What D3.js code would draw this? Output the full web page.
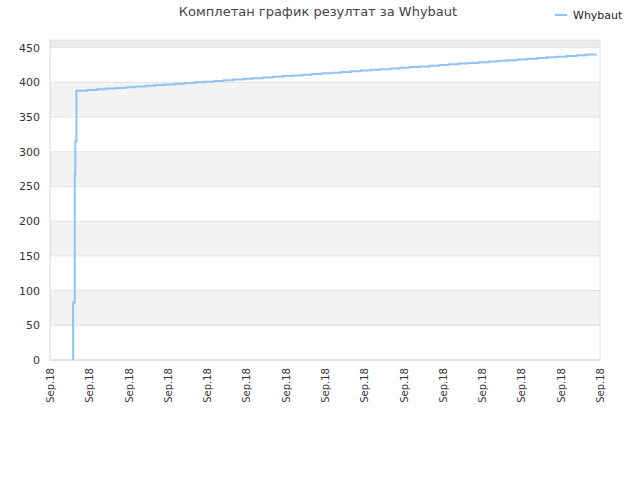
<!DOCTYPE html>
<html><head><meta charset="utf-8">
<script src="https://cdn.jsdelivr.net/npm/d3@7"></script>
<style>body{margin:0;background:#fff}text{font-family:"DejaVu Sans",sans-serif}</style>
</head><body>
<svg id="chart" width="640" height="480"></svg>
<script>
// data (x in arbitrary time units 0..100)
let riseX = [4.2, 4.2, 4.5, 4.5, 4.6, 4.8];
let riseY = [0, 83, 84, 268, 315, 388];
let stepX = [6.7,8.5,10.2,12.0,13.8,15.6,17.4,19.1,20.9,22.7,24.5,26.3,28.0,29.8,31.6,33.4,35.2,36.9,38.7,40.5,42.3,44.1,45.8,47.6,49.4,51.2,53.0,54.7,56.5,58.3,60.1,61.9,63.6,65.4,67.2,69.0,70.8,72.5,74.3,76.1,77.9,79.7,81.4,83.2,85.0,86.8,88.6,90.3,92.1,93.9,95.7,97.5,99.3];
let stepY = [389,390,391,392,393,394,395,396,397,398,399,400,401,402,403,404,405,406,407,408,409,410,411,412,413,414,415,416,417,418,419,420,421,422,423,424,425,426,427,428,429,430,431,432,433,434,435,436,437,438,439,440,441];
let yTicks = [0,50,100,150,200,250,300,350,400,450];
let xTickLabels = d3.range(15).map(() => "Sep.18");
let seriesName = "Whybaut";

let svg = d3.select("#chart");
let m = {l: 50, r: 600, t: 40, b: 360};
let x = d3.scaleLinear().domain([0, 100]).range([m.l, m.r]);
let y = d3.scaleLinear().domain([0, 461]).range([m.b, m.t]);

// bands
let bands = yTicks.concat([461]);
for (let i = 0; i < bands.length - 1; i++) {
  if (i % 2 == 1) {
    svg.append("rect").attr("x", m.l).attr("width", m.r - m.l)
      .attr("y", y(bands[i+1])).attr("height", y(bands[i]) - y(bands[i+1]))
      .attr("fill", i == bands.length - 2 ? "#ececec" : "#f3f3f3");
  }
}
svg.selectAll(".grid").data(yTicks.concat([461])).enter().append("line")
  .attr("x1", m.l).attr("x2", m.r).attr("y1", d => y(d)).attr("y2", d => y(d))
  .attr("stroke", "#e2e2e2");
svg.append("line").attr("x1", m.l).attr("x2", m.l).attr("y1", m.t).attr("y2", m.b).attr("stroke", "#d8d8d8");
svg.append("line").attr("x1", m.r).attr("x2", m.r).attr("y1", m.t).attr("y2", m.b).attr("stroke", "#e2e2e2");
svg.append("line").attr("x1", m.l).attr("x2", m.r).attr("y1", m.b).attr("y2", m.b).attr("stroke", "#d8d8d8");

svg.selectAll(".yl").data(yTicks).enter().append("text")
  .attr("x", m.l - 10).attr("y", d => y(d) + 4).attr("text-anchor", "end")
  .attr("font-size", 11).attr("fill", "#333").text(d => d);

let xs = d3.scaleLinear().domain([0, xTickLabels.length - 1]).range([m.l, m.r]);
svg.selectAll(".xl").data(xTickLabels).enter().append("text")
  .attr("transform", (d, i) => `translate(${xs(i) + 4},${m.b + 8}) rotate(-90)`)
  .attr("text-anchor", "end").attr("font-size", 10).attr("fill", "#333").text(d => d);

// series
let pts = riseX.map((d, i) => [d, riseY[i]]).concat(stepX.map((d, i) => [d, stepY[i]]));
let line = d3.line().x(d => x(d[0])).y(d => y(d[1])).curve(d3.curveStepAfter);
svg.append("path").datum(pts).attr("d", line).attr("fill", "none")
  .attr("stroke", "#90c4f2").attr("stroke-width", 2);

svg.append("text").attr("x", 318).attr("y", 16).attr("text-anchor", "middle")
  .attr("font-size", 13).attr("fill", "#444").text("Комплетан график резултат за " + seriesName);
svg.append("line").attr("x1", 555).attr("x2", 567).attr("y1", 15).attr("y2", 15)
  .attr("stroke", "#90c4f2").attr("stroke-width", 2);
svg.append("text").attr("x", 573).attr("y", 19).attr("font-size", 11).attr("fill", "#222").text(seriesName);
</script>
</body></html>
